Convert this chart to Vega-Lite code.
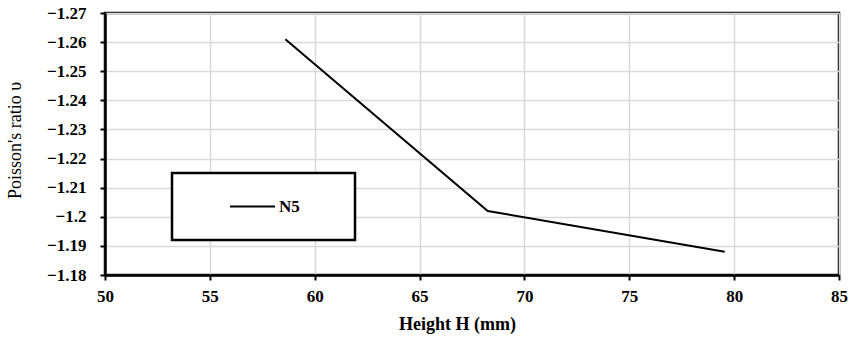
{
  "$schema": "https://vega.github.io/schema/vega-lite/v6.json",
  "width": 734,
  "height": 262,
  "autosize": "none",
  "padding": {"left": 105, "top": 13, "right": 14, "bottom": 63},
  "background": "white",
  "config": {
    "font": "Liberation Serif, Times New Roman, serif",
    "view": {"stroke": "black", "strokeWidth": 2.5},
    "axis": {
      "domainColor": "black",
      "domainWidth": 2.5,
      "tickColor": "black",
      "tickWidth": 2,
      "tickSize": 5,
      "gridColor": "#d9d9d9",
      "gridWidth": 1.5,
      "labelColor": "black",
      "titleColor": "black"
    }
  },
  "data": {
    "values": [
      {"H": 58.6, "v": -1.261, "series": "N5"},
      {"H": 68.25, "v": -1.202, "series": "N5"},
      {"H": 79.55, "v": -1.188, "series": "N5"}
    ]
  },
  "mark": {"type": "line", "strokeWidth": 2},
  "encoding": {
    "x": {
      "field": "H",
      "type": "quantitative",
      "scale": {"domain": [50, 85], "nice": false, "zero": false},
      "axis": {
        "values": [50, 55, 60, 65, 70, 75, 80, 85],
        "title": "Height H (mm)",
        "titleFont": "Liberation Serif, Times New Roman, serif",
        "titleFontSize": 18,
        "titleFontWeight": "bold",
        "titlePadding": 11,
        "titleX": 352,
        "labelFont": "Liberation Serif, Times New Roman, serif",
        "labelFontSize": 17,
        "labelFontWeight": "bold",
        "labelPadding": 8,
        "labelFlush": false
      }
    },
    "y": {
      "field": "v",
      "type": "quantitative",
      "scale": {"domain": [-1.27, -1.18], "nice": false, "zero": false, "reverse": true},
      "axis": {
        "values": [-1.27, -1.26, -1.25, -1.24, -1.23, -1.22, -1.21, -1.2, -1.19, -1.18],
        "format": ".2~f",
        "title": "Poisson's ratio υ",
        "titleFont": "Liberation Serif, Times New Roman, serif",
        "titleFontSize": 18,
        "titleFontWeight": "normal",
        "titleX": -90,
        "titleY": 127,
        "titleBaseline": "middle",
        "labelFont": "Liberation Serif, Times New Roman, serif",
        "labelFontSize": 17,
        "labelFontWeight": "bold",
        "labelPadding": 14,
        "labelFlush": false
      }
    },
    "color": {
      "field": "series",
      "type": "nominal",
      "scale": {"range": ["black"]},
      "legend": {
        "title": null,
        "orient": "none",
        "legendX": 67,
        "legendY": 160,
        "strokeColor": "black",
        "fillColor": "white",
        "padding": 25,
        "clipHeight": 17,
        "symbolType": "stroke",
        "symbolSize": 2025,
        "symbolStrokeWidth": 2,
        "symbolOffset": 32,
        "labelOffset": 3,
        "labelFontSize": 17,
        "labelFontWeight": "bold",
        "labelColor": "black",
        "labelFont": "Liberation Serif, Times New Roman, serif",
        "labelExpr": "datum.label + '\u00a0\u00a0\u00a0\u00a0\u00a0\u00a0\u00a0\u200b'",
        "encode": {"legend": {"update": {"strokeWidth": {"value": 2.5}}}}
      }
    }
  }
}
